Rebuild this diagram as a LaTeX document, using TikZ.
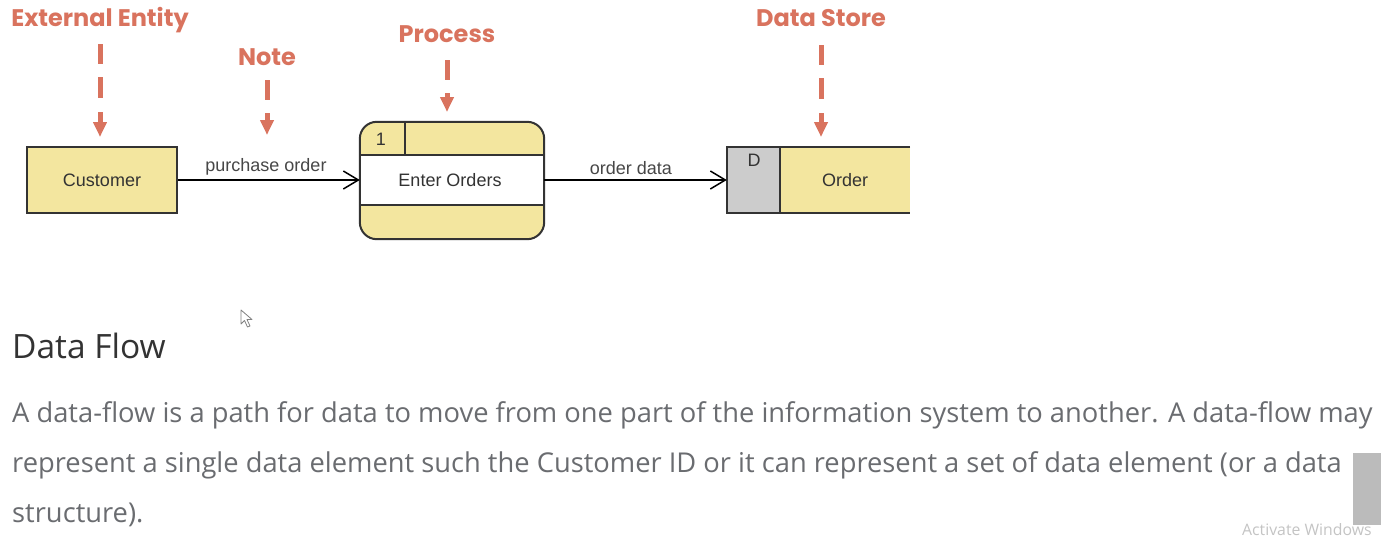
\documentclass[tikz,border=0pt]{standalone}
\usepackage{fontspec}
\setmainfont{Open Sans}
\newfontfamily\diagfont{Liberation Sans}
\newfontfamily\annofont{Poppins}
\usetikzlibrary{arrows.meta}
\definecolor{salmon}{HTML}{D9735E}
\definecolor{dfdyellow}{HTML}{F3E69F}
\definecolor{dfdgray}{HTML}{CCCCCC}
\definecolor{dfdline}{HTML}{333333}
\definecolor{bodytext}{HTML}{6A6C70}
\definecolor{headtext}{HTML}{333333}
\definecolor{wmtext}{HTML}{C4C4C4}
\definecolor{scrollgray}{HTML}{BBBBBB}
\tikzset{
  annolabel/.style={inner sep=0pt, anchor=base, text=salmon, font=\annofont\bfseries\fontsize{24}{28}\selectfont},
  annoarrow/.style={draw=salmon, line width=5pt, -{Triangle[length=15pt,width=13pt]}},
  dfdtext/.style={inner sep=0pt, text=dfdline, font=\diagfont\fontsize{18}{21}\selectfont},
  flowlabel/.style={inner sep=0pt, anchor=base, text=dfdline!90, font=\diagfont\fontsize{18}{21}\selectfont},
  flow/.style={draw=black, line width=1.5pt, -{Straight Barb[length=15pt,width=18pt,line width=1.5pt]}},
  bodyline/.style={inner sep=0pt, anchor=base west, text=bodytext, font=\fontsize{27.3}{32}\selectfont},
}
\begin{document}
\begin{tikzpicture}[x=1pt,y=-1pt]
\useasboundingbox (0,0) rectangle (1381,547);
\fill[white] (0,0) rectangle (1381,547);

% ---- annotation labels
\node[annolabel] (lee) at (100,26) {External Entity};
\node[annolabel] (lnote) at (267,65) {Note};
\node[annolabel] (lproc) at (447,42) {Process};
\node[annolabel] (lstore) at (821,26) {Data Store};

% ---- external entity
\node[draw=dfdline, line width=2pt, fill=dfdyellow, minimum width=150pt, minimum height=66pt, inner sep=0pt] (cust) at (102,180) {};
\node[dfdtext] (custtxt) at (cust.center) {Customer};

% ---- process
\node[minimum width=184pt, minimum height=117pt, inner sep=0pt] (proc) at (452,180.5) {};
\fill[dfdyellow, rounded corners=17pt] (proc.north west) rectangle (proc.south east);
\coordinate (pbandtop) at (360,155);
\coordinate (pbandbot) at (544,205);
\fill[white] (pbandtop) rectangle (pbandbot);
\draw[dfdline, line width=2pt] (360,155) -- (544,155);
\draw[dfdline, line width=2pt] (360,205) -- (544,205);
\draw[dfdline, line width=2pt] (405,122) -- (405,155);
\draw[dfdline, line width=2pt, rounded corners=17pt] (proc.north west) rectangle (proc.south east);
\node[dfdtext] (pid) at (381,139) {1};
\node[dfdtext] (ptxt) at (450,180) {Enter Orders};

% ---- data store
\node[minimum width=183pt, minimum height=66pt, inner sep=0pt] (store) at (818.5,180) {};
\fill[dfdgray] (store.north west) rectangle (780,213);
\fill[dfdyellow] (780,147) rectangle (store.south east);
\draw[dfdline, line width=2pt] (store.north east) -- (store.north west) -- (store.south west) -- (store.south east);
\draw[dfdline, line width=2pt] (780,147) -- (780,213);
\node[dfdtext] (sid) at (754,160) {D};
\node[dfdtext] (stxt) at (845,180) {Order};

% ---- annotation arrows (end points just above the shapes)
\coordinate (tee) at (100,137);
\coordinate (tnote) at (267,135);
\coordinate (tproc) at (447,112);
\coordinate (tstore) at (821,137);
\draw[annoarrow, dash pattern=on 20pt off 13pt on 21pt off 14pt on 40pt] (100,44) -- (tee);
\draw[annoarrow, dash pattern=on 20pt off 13pt on 40pt] (267,80) -- (tnote);
\draw[annoarrow, dash pattern=on 20pt off 13pt on 40pt] (447,60) -- (tproc);
\draw[annoarrow, dash pattern=on 20pt off 13pt on 21pt off 14pt on 40pt] (821,45) -- (tstore);

% ---- flows
\draw[flow] (cust.east) -- (proc.west |- cust.east);
\node[flowlabel] (fl1) at (266,171) {purchase order};
\draw[flow] (proc.east |- cust.east) -- (store.west);
\node[flowlabel] (fl2) at (631,174) {order data};

% ---- cursor
\draw[fill=white, draw=gray, line width=0.8pt, line join=round] (241,310) -- (241,324) -- (244.5,320.5) -- (247.5,327) -- (250,326) -- (247,319.5) -- (252,319.5) -- cycle;

% ---- text
\node[inner sep=0pt, anchor=base west, text=headtext, font=\fontsize{33.5}{38}\selectfont] (head) at (12,358) {Data Flow};
\node[bodyline] (b1) at (12,422) {A data-flow is a path for data to move from one part of the information system to another. A data-flow may};
\node[bodyline] (b2) at (12,472) {represent a single data element such the Customer ID or it can represent a set of data element (or a data};
\node[bodyline] (b3) at (12,522) {structure).};

% ---- scrollbar and watermark
\fill[scrollgray] (1353,453) rectangle (1381,525);
\node[inner sep=0pt, anchor=base west, text=wmtext, font=\fontsize{15.8}{18}\selectfont] (wm) at (1242,535) {Activate Windows};
\end{tikzpicture}
\end{document}
